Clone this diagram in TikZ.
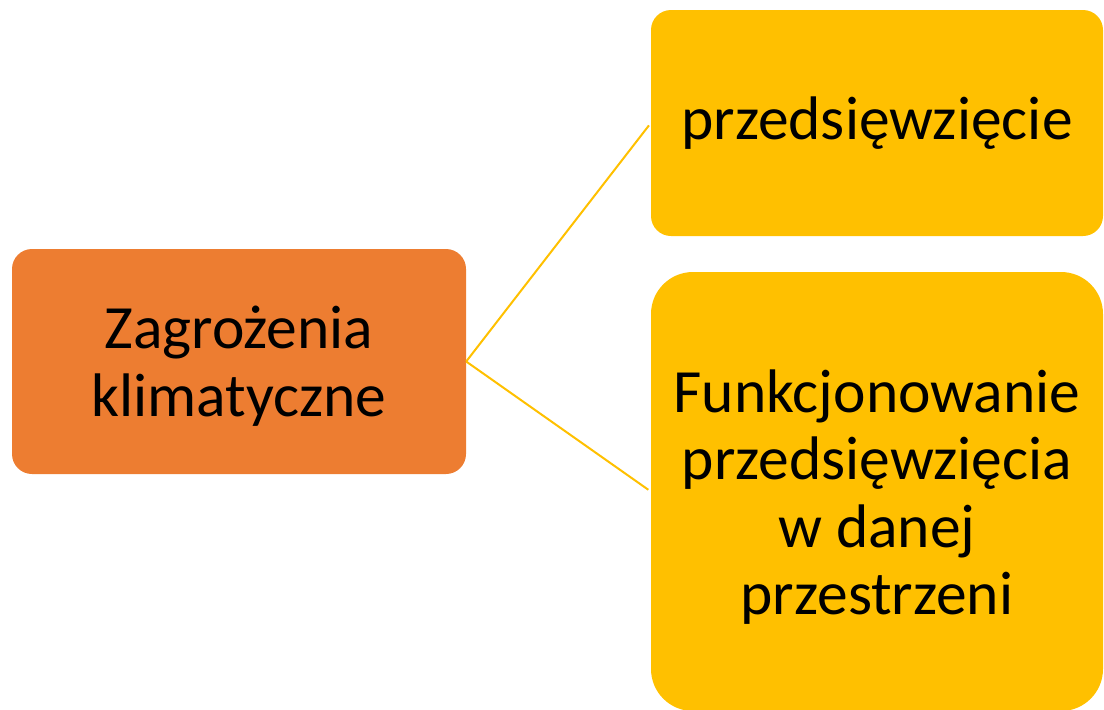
\documentclass[tikz,border=0pt]{standalone}
\usepackage{fontspec}
\setmainfont{Carlito}
\definecolor{klimaorange}{HTML}{ED7D31}
\definecolor{klimagold}{HTML}{FFC000}
\begin{document}
\begin{tikzpicture}[x=1pt,y=-1pt,
    box/.style={inner sep=0pt,align=center,font=\fontsize{61.5}{67.5}\selectfont},
    link/.style={klimagold,line width=2pt,shorten >=3pt}]
        \useasboundingbox (0,0) rectangle (1104,710);
        %% root box
        \node[box,fill=klimaorange,rounded corners=20pt,minimum width=454pt,minimum height=225pt] (root) at (239,361.5) {\rule{0pt}{52pt}Zagrożenia\\klimatyczne};
        %% upper branch
        \node[box,fill=klimagold,rounded corners=20pt,minimum width=452pt,minimum height=226pt] (proj) at (877,123) {przedsięwzięcie};
        %% lower branch
        \node[box,fill=klimagold,rounded corners=42pt,minimum width=452pt,minimum height=439pt] (func) at (877,491.5) {\rule{0pt}{54pt}Funkcjonowanie\\przedsięwzięcia\\w danej\\przestrzeni};
        %% connectors
        \draw[link] (root.east) -- (proj.west);
        \draw[link] (root.east) -- (func.west);
    \end{tikzpicture}
\end{document}
